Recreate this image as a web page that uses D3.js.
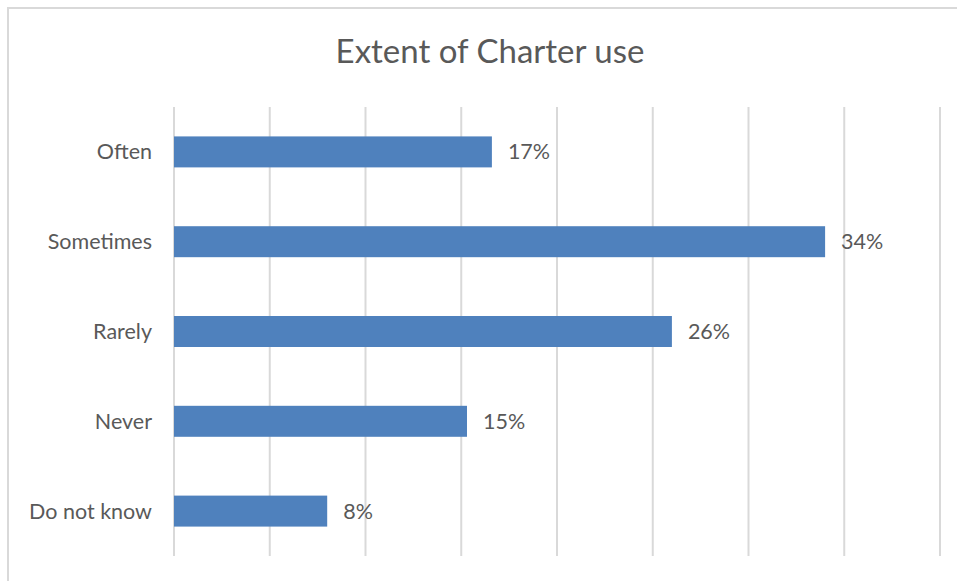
<!DOCTYPE html>
<html>
<head>
<meta charset="utf-8">
<script src="https://cdn.jsdelivr.net/npm/d3@7"></script>
<style>
  html, body { margin: 0; padding: 0; background: #fff; }
  svg { display: block; font-family: Lato, "Open Sans", sans-serif; }
</style>
</head>
<body>
<svg id="chart" width="957" height="581"></svg>
<script>
const title = "Extent of Charter use";
const categories = ["Often", "Sometimes", "Rarely", "Never", "Do not know"];
const values = [0.166, 0.340, 0.260, 0.153, 0.080];
const tickValues = [0, 0.05, 0.10, 0.15, 0.20, 0.25, 0.30, 0.35, 0.40];

const svg = d3.select("#chart");
const W = 957, H = 581;
const plot = { left: 174, right: 940, top: 107, bottom: 556 };

// chart frame
svg.append("rect")
  .attr("x", 8).attr("y", 8)
  .attr("width", W + 20).attr("height", H + 20)
  .attr("fill", "#fff").attr("stroke", "#d9d9d9").attr("stroke-width", 2);

const x = d3.scaleLinear().domain([0, 0.4]).range([plot.left, plot.right]);
const y = d3.scaleBand().domain(categories).range([plot.top, plot.bottom])
  .paddingInner(0.655).paddingOuter(0.3275);

// gridlines
svg.append("g").selectAll("line").data(tickValues).join("line")
  .attr("x1", d => x(d)).attr("x2", d => x(d))
  .attr("y1", plot.top).attr("y2", plot.bottom)
  .attr("stroke", "#d9d9d9").attr("stroke-width", 2);

// title
svg.append("text")
  .attr("x", 490).attr("y", 63)
  .attr("text-anchor", "middle")
  .attr("fill", "#595959")
  .attr("font-size", 33)
  .text(title);

// bars
svg.append("g").selectAll("rect").data(values).join("rect")
  .attr("x", x(0))
  .attr("y", (d, i) => y(categories[i]))
  .attr("width", d => x(d) - x(0))
  .attr("height", y.bandwidth())
  .attr("fill", "#4f81bd");

// category labels
svg.append("g").selectAll("text").data(categories).join("text")
  .attr("x", plot.left - 22)
  .attr("y", d => y(d) + y.bandwidth() / 2)
  .attr("dy", "0.35em")
  .attr("text-anchor", "end")
  .attr("fill", "#595959")
  .attr("font-size", 21.5)
  .text(d => d);

// data labels
const fmt = d3.format(".0%");
svg.append("g").selectAll("text").data(values).join("text")
  .attr("x", d => x(d) + 16)
  .attr("y", (d, i) => y(categories[i]) + y.bandwidth() / 2)
  .attr("dy", "0.35em")
  .attr("fill", "#595959")
  .attr("font-size", 21.5)
  .text(d => fmt(d));
</script>
</body>
</html>
